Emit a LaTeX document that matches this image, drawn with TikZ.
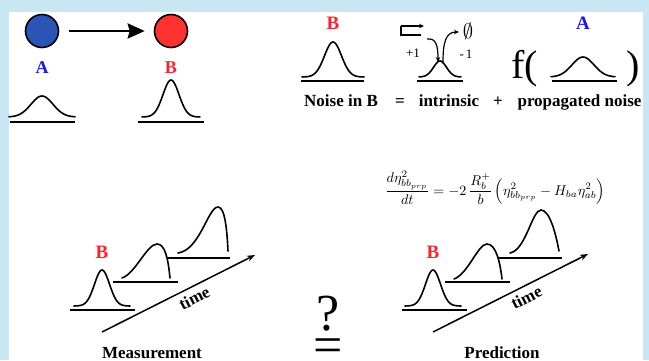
\documentclass[tikz,border=0pt]{standalone}
\usepackage{fontspec}
\setmainfont{Liberation Serif}
\usepackage{graphicx}
\usetikzlibrary{arrows.meta}
\definecolor{bgblue}{RGB}{201,231,242}
\definecolor{cblue}{RGB}{42,85,180}
\definecolor{cred}{RGB}{255,50,50}
\definecolor{tblue}{RGB}{25,25,235}
\definecolor{tred}{RGB}{250,35,45}
\newcommand\gaussat[5]{%
  \draw[curve] plot[domain=-#5:#5,samples=45,smooth] ({#1+\x},{#2-#3*exp(-0.5*(\x/#4)*(\x/#4))});}
\tikzset{
  curve/.style={line width=1.6pt, line cap=round},
  baseln/.style={line width=2pt},
  lbl/.style={font=\bfseries\fontsize{17}{17}\selectfont, anchor=base, inner sep=0pt},
  blbl/.style={font=\bfseries\fontsize{19}{19}\selectfont, anchor=base, inner sep=0pt},
  dot/.style={circle, draw, line width=1.6pt, minimum size=33pt, inner sep=0pt},
  tarrow/.style={line width=1.5pt, -{Stealth[length=8pt,width=6pt]}},
  smallarr/.style={line width=1.2pt, -{Stealth[length=5pt,width=4.5pt]}},
}
\begin{document}
\begin{tikzpicture}[x=1pt,y=-1pt]
\fill[bgblue] (0,0) rectangle (649,360);
\fill[white] (9,12) rectangle (643,360);
\useasboundingbox (0,0) rectangle (649,360);

% ---- top-left: A -> B
\node[dot, fill=cblue] (cA) at (42,31) {};
\node[dot, fill=cred] (cB) at (171,31) {};
\draw[line width=2.6pt, -{Stealth[length=17pt,width=15pt,inset=2pt]}, shorten <=10pt, shorten >=9pt] (cA) -- (cB);
\node[lbl, text=tblue, font=\bfseries\fontsize{18}{18}\selectfont] (lA1) at (42,73) {A};
\node[lbl, text=tred, font=\bfseries\fontsize{18}{18}\selectfont] (lB1) at (171,73) {B};
\gaussat{42}{117}{21}{11}{33}
\draw[baseln] (10,122) -- (75,122);
\gaussat{171}{117}{37}{8}{29}
\draw[baseln] (138,122) -- (204,122);

% ---- top-right: noise decomposition
\node[blbl, text=tred] (lB2) at (333,29) {B};
\gaussat{333}{77}{35}{8.5}{31}
\draw[baseln] (301,81) -- (364,81);

% intrinsic
\draw[line width=1.2pt] (421,35) -- (401,35) -- (401,26);
\draw[smallarr] (401,26) -- (424,26);
\draw[smallarr] (427,39) .. controls (436,38) and (438,45) .. (438,62);
\draw[smallarr] (443,62) .. controls (443,42) and (446,32) .. (459,32);
\node[font=\fontsize{20}{20}\selectfont, inner sep=0pt] (empty) at (468,31) {$\emptyset$};
\node[font=\fontsize{13}{13}\selectfont, anchor=base, inner sep=0pt] (plus1) at (413,57) {+1};
\node[font=\fontsize{13}{13}\selectfont, anchor=base, inner sep=0pt] (minus1) at (466,58) {-\,1};
\gaussat{440}{77}{16}{6.5}{21}
\draw[baseln] (417,81) -- (463,81);

% propagated
\node[font=\fontsize{40}{40}\selectfont, anchor=base west, inner sep=0pt] (fpar) at (511,78) {f(};
\node[font=\fontsize{40}{40}\selectfont, anchor=base west, inner sep=0pt] (rpar) at (626,78) {)};
\node[blbl, text=tblue] (lA2) at (583,29) {A};
\gaussat{583}{77}{20}{11}{32}
\draw[baseln] (552,81) -- (617,81);

\node[lbl] (t1) at (341,106) {Noise in B};
\node[lbl] (t2) at (400,106) {=};
\node[lbl] (t3) at (449,106) {intrinsic};
\node[lbl] (t4) at (498,106) {+};
\node[lbl] (t5) at (579.5,106) {propagated noise};

% equation
\node[inner sep=0pt] (eqn) at (495,188) {\resizebox{220pt}{!}{$\displaystyle
  \frac{d\eta^2_{bb_{prp}}}{dt} = -2\,\frac{R_b^+}{b}\left(\eta^2_{bb_{prp}} - H_{ba}\eta^2_{ab}\right)$}};

% ---- Measurement
\node[blbl, text=tred] (lB3) at (102,258) {B};
\gaussat{102}{306}{36}{7.5}{28}
\draw[baseln] (70,310) -- (135,310);
\draw[baseln] (113,282) -- (178,282);
\draw[curve] (122,278) .. controls (135,274) and (147,244) .. (157,244) .. controls (165,244) and (168,258) .. (170,278);
\draw[baseln] (167,258) -- (230,258);
\draw[curve] (178,253) .. controls (200,250) and (208,207) .. (218,207) .. controls (225,207) and (227,230) .. (228,251);
\coordinate (m0) at (102,332);
\coordinate (m1) at (255,255);
\draw[tarrow] (m0) -- node[sloped, below, pos=0.57, font=\bfseries\fontsize{17}{17}\selectfont, inner sep=4.5pt] (mtime) {time} (m1);
\node[lbl] (meas) at (152,358.5) {Measurement};

% ---- Prediction
\node[blbl, text=tred] (lB4) at (433,258) {B};
\gaussat{433}{306}{36}{7.5}{28}
\draw[baseln] (402,310) -- (467,310);
\draw[baseln] (445,282) -- (510,282);
\draw[curve] (454,279) .. controls (468,274) and (478,244) .. (487,244) .. controls (496,244) and (500,262) .. (502,279);
\draw[baseln] (498,258) -- (562,258);
\draw[curve] (510,253) .. controls (526,250) and (532,210) .. (541,210) .. controls (550,210) and (556,235) .. (559,251);
\coordinate (p0) at (433,332);
\coordinate (p1) at (588,254);
\draw[tarrow] (p0) -- node[sloped, below, pos=0.57, font=\bfseries\fontsize{17}{17}\selectfont, inner sep=4.5pt] (ptime) {time} (p1);
\node[lbl] (pred) at (502,358.5) {Prediction};

% ---- ? over =
\node[font=\fontsize{52}{52}\selectfont, anchor=base, inner sep=0pt] (qm) at (328,330) {?};
\node[font=\fontsize{52}{52}\selectfont, inner sep=0pt] (eqs) at (328,351) {=};
\end{tikzpicture}
\end{document}
